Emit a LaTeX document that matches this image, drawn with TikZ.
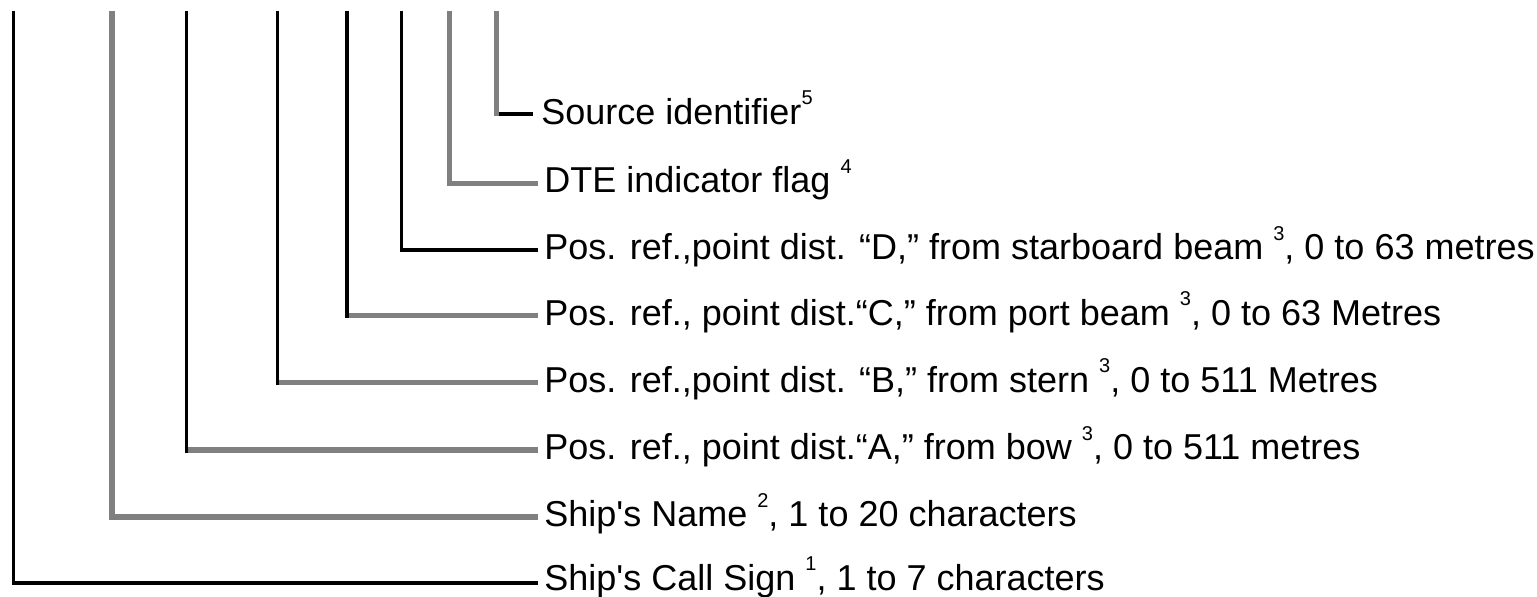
\documentclass[tikz,border=0pt]{standalone}
\usepackage{fontspec}
\setmainfont{Liberation Sans}
\definecolor{leadgray}{RGB}{128,128,128}
% raised footnote number
\newcommand\fnmark[1]{\raisebox{0.55em}{\fontsize{10pt}{10pt}\selectfont #1}}
% one lead: name, x, y, vertical style, horizontal style, end x, overlap of the vertical
\newcommand\leadline[7]{%
  \coordinate (#1-top) at (#2,11);
  \coordinate (#1-elbow) at (#2,#3);
  \coordinate (#1-end) at (#6,#3);
  \draw[#5] (#1-elbow) -- (#1-end);
  \draw[#4] (#1-top) -- ([yshift=-#7]#1-elbow);
}
\begin{document}
\begin{tikzpicture}[x=0.5pt,y=-0.5pt,
  kline/.style={line width=1.6pt,draw=black},
  gline/.style={line width=2.75pt,draw=leadgray},
  lbl/.style={anchor=base west,inner sep=0pt,font=\fontsize{18pt}{18pt}\selectfont}]
\useasboundingbox[fill=white] (0,0) rectangle (1537,597);

% leads, from the outermost to the innermost
\leadline{call}{13.5}{583}{kline}{kline}{538}{0.8pt}
\leadline{name}{112}{517}{gline}{gline}{538}{1.375pt}
\leadline{posa}{186.5}{450}{kline}{gline}{538}{1.375pt}
\leadline{posb}{277.5}{382.5}{kline}{gline}{538}{1.375pt}
\leadline{posc}{347}{315.5}{kline}{gline}{538}{1.375pt}
\leadline{posd}{401.5}{250}{kline}{kline}{538}{0.8pt}
\leadline{dte}{449.5}{183.5}{gline}{gline}{538}{1.375pt}
\leadline{src}{496.5}{114}{gline}{kline}{533}{0.8pt}

% labels
\node[lbl] (src-lbl)  at (541,124.5) {Source identifier\fnmark{5}};
\node[lbl] (dte-lbl)  at (544,193)   {DTE indicator flag \fnmark{4}};
\node[lbl] (posd-lbl) at (544,260)   {Pos. ref.,point dist. “D,” from starboard beam \fnmark{3}, 0 to 63 metres};
\node[lbl] (posc-lbl) at (544,325.5) {Pos. ref., point dist.“C,” from port beam \fnmark{3}, 0 to 63 Metres};
\node[lbl] (posb-lbl) at (544,392.5) {Pos. ref.,point dist. “B,” from stern \fnmark{3}, 0 to 511 Metres};
\node[lbl] (posa-lbl) at (544,460)   {Pos. ref., point dist.“A,” from bow \fnmark{3}, 0 to 511 metres};
\node[lbl] (name-lbl) at (544,527)   {Ship\textquotesingle s Name \fnmark{2}, 1 to 20 characters};
\node[lbl] (call-lbl) at (544,590.5) {Ship\textquotesingle s Call Sign \fnmark{1}, 1 to 7 characters};
\end{tikzpicture}
\end{document}
